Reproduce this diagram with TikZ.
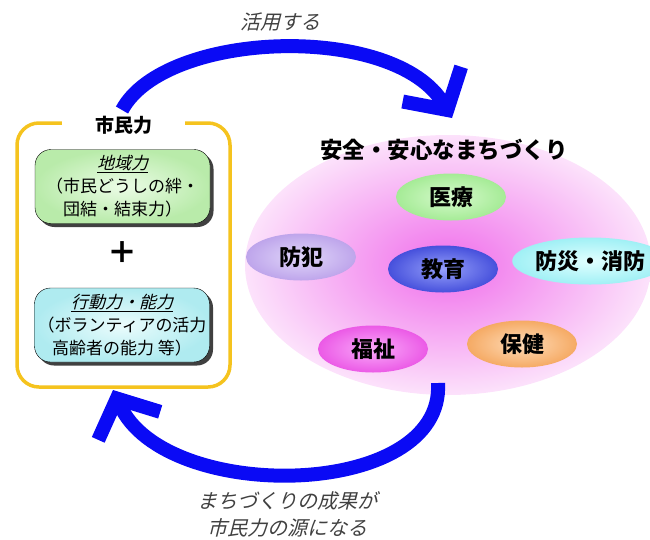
\documentclass[tikz,border=0pt]{standalone}
\usepackage{fontspec}
\setmainfont{Noto Sans CJK JP}
\newfontfamily\jpit[FakeSlant=0.25]{Noto Sans CJK JP}
\usetikzlibrary{arrows.meta,positioning,shapes.geometric,shadows}
\definecolor{pinkc}{RGB}{240,110,235}
\definecolor{arrowblue}{RGB}{10,10,245}
\definecolor{frameyellow}{RGB}{245,195,30}

\begin{document}
\begin{tikzpicture}[x=1pt,y=-1pt,
    field/.style={ellipse,draw=none,minimum width=406pt,minimum height=260pt,inner color=pinkc,outer color=pinkc!20},
    topic/.style={ellipse,draw=none,minimum width=110pt,minimum height=47pt,inner sep=0pt,font=\fontsize{22}{24}\selectfont\bfseries},
    powerbox/.style={draw=black,thin,rounded corners=16pt,minimum width=175pt,minimum height=74pt,inner sep=1pt,align=center,
        font=\fontsize{17}{23}\selectfont,drop shadow={shadow xshift=3.5pt,shadow yshift=-3.5pt,fill=black!75,opacity=1}},
    cycle/.style={draw=arrowblue,line width=14pt,-{Straight Barb[length=30pt,width=68pt]}},
    caption/.style={font=\jpit\fontsize{20}{27}\selectfont,text=black!75,align=center}]
\useasboundingbox (0,0) rectangle (650,539);
%
   \node[field]   (N0) at (448,265) {};
   \node[font=\fontsize{22.5}{24}\selectfont\bfseries] (T0) at (444,150) {安全・安心なまちづくり};
   \node[topic,inner color={rgb,255:red,215;green,250;blue,205},outer color={rgb,255:red,165;green,235;blue,150}] (N1) at (451,197) {医療};
   \node[topic,inner color={rgb,255:red,225;green,215;blue,250},outer color={rgb,255:red,190;green,165;blue,235}] (N2) at (301,257) {防犯};
   \node[topic,inner color={rgb,255:red,150;green,160;blue,250},outer color={rgb,255:red,70;green,80;blue,220}]   (N3) at (443,269) {教育};
   \node[topic,minimum width=115pt,inner color={rgb,255:red,225;green,255;blue,255},outer color={rgb,255:red,160;green,240;blue,245}] (N4) at (590,261) {防災・消防};
   \node[topic,inner color={rgb,255:red,250;green,170;blue,250},outer color={rgb,255:red,235;green,90;blue,230}]  (N5) at (373,349) {福祉};
   \node[topic,inner color={rgb,255:red,255;green,220;blue,185},outer color={rgb,255:red,245;green,170;blue,100}] (N6) at (522,344) {保健};
%
   \node[draw=frameyellow,line width=3.5pt,rounded corners=22pt,minimum width=213pt,minimum height=264pt] (Y0) at (123.5,255) {};
   \node[fill=white,inner xsep=33pt,inner ysep=2pt,font=\fontsize{19}{22}\selectfont\bfseries] (Y1) at ([yshift=-4pt]Y0.north) {市民力};
   \node[powerbox,inner color={rgb,255:red,235;green,252;blue,230},outer color={rgb,255:red,185;green,235;blue,170}] (B1) at (122.5,186.5)
        {{\jpit\underline{地域力}}\\（市民どうしの絆・\\団結・結束力）};
   \node[font=\fontsize{30}{30}\selectfont\bfseries] (P0) [below=14pt of B1] {＋};
   \node[powerbox,inner color={rgb,255:red,235;green,252;blue,252},outer color={rgb,255:red,175;green,235;blue,240}] (B2) at (122,325)
        {{\jpit\underline{行動力・能力}}\\（ボランティアの活力\\高齢者の能力 等）};
%
   \coordinate (A1) at (122,110);
   \coordinate (A2) at (452,118);
   \coordinate (A3) at (438,383);
   \coordinate (A4) at (113,390);
   \draw[cycle] (A1) .. controls (165,30) and (395,22) .. (A2);
   \draw[cycle] (A3) .. controls (445,500) and (165,505) .. (A4);
   \node[caption] (C1) at (280,22) {活用する};
   \node[caption] (C2) at (287,514) {まちづくりの成果が\\市民力の源になる};
\end{tikzpicture}
\end{document}
